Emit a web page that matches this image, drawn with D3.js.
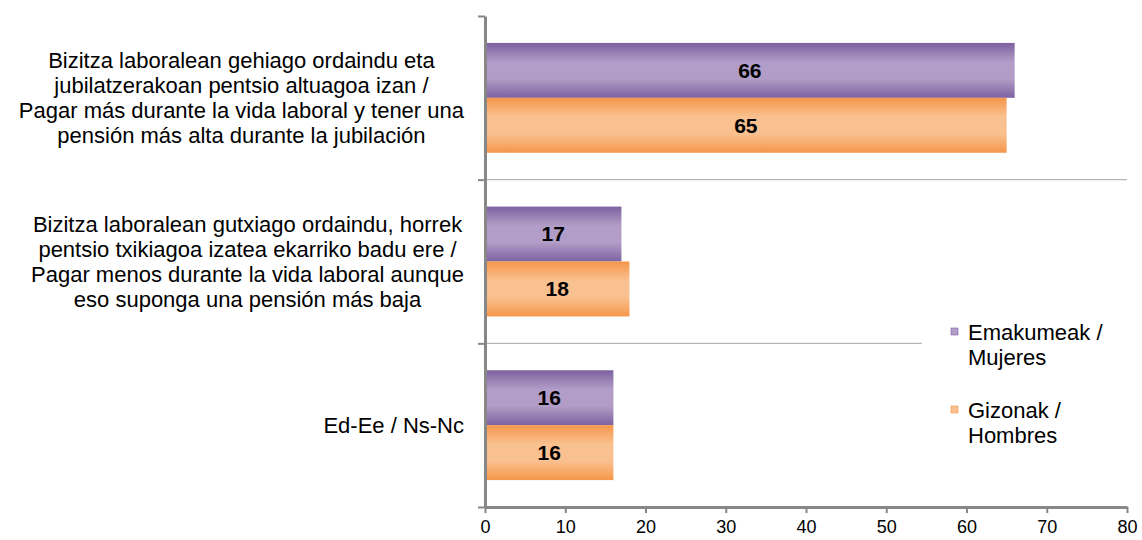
<!DOCTYPE html>
<html>
<head>
<meta charset="utf-8">
<script src="https://cdn.jsdelivr.net/npm/d3@7"></script>
<style>
  body { margin: 0; background: #fff; }
  svg { font-family: "Liberation Sans", Arial, sans-serif; }
</style>
</head>
<body>
<div class="chart"></div>
<script>
/////////////////////
// DATA
/////////////////////

var categories = [
    ['Bizitza laboralean gehiago ordaindu eta', 'jubilatzerakoan pentsio altuagoa izan /', 'Pagar más durante la vida laboral y tener una', 'pensión más alta durante la jubilación'],
    ['Bizitza laboralean gutxiago ordaindu, horrek', 'pentsio txikiagoa izatea ekarriko badu ere /', 'Pagar menos durante la vida laboral aunque', 'eso suponga una pensión más baja'],
    ['Ed-Ee / Ns-Nc']
];
var seriesNames = [['Emakumeak /', 'Mujeres'], ['Gizonak /', 'Hombres']];
var mujeres = [66, 17, 16];
var hombres = [65, 18, 16];
var xTicks = [0, 10, 20, 30, 40, 50, 60, 70, 80];

/////////////////////
// SETTINGS
/////////////////////

var W = 1142, H = 540;
var m = { left: 485, right: 15, top: 16, bottom: 33 };
var edge = [['#7d62a0', '#b19dc7'], ['#f5964a', '#f9c190']];
var axisColor = '#878787';

var svg = d3.select('.chart').append('svg')
    .attr('width', W)
    .attr('height', H);

var defs = svg.append('defs');
edge.forEach(function(c, i) {
    var g = defs.append('linearGradient')
        .attr('id', 'grad' + i)
        .attr('x1', 0).attr('y1', 0).attr('x2', 0).attr('y2', 1);
    g.append('stop').attr('offset', '0%').attr('stop-color', c[0]);
    g.append('stop').attr('offset', '35%').attr('stop-color', c[1]);
    g.append('stop').attr('offset', '65%').attr('stop-color', c[1]);
    g.append('stop').attr('offset', '100%').attr('stop-color', c[0]);
});

/////////////////////
// SCALES
/////////////////////

var x = d3.scaleLinear()
    .domain([0, 80])
    .range([m.left, W - m.right]);

var y = d3.scaleBand()
    .domain(d3.range(categories.length))
    .range([m.top, H - m.bottom])
    .paddingInner(0)
    .paddingOuter(0);

var inner = d3.scaleBand()
    .domain([0, 1])
    .range([0, y.bandwidth()])
    .paddingInner(0)
    .paddingOuter(0.49);

/////////////////////
// GRIDLINES
/////////////////////

svg.append('g')
    .selectAll('line')
    .data(d3.range(1, categories.length))
    .enter()
    .append('line')
    .attr('x1', x(0))
    .attr('x2', x(80))
    .attr('y1', function(d) { return y(d); })
    .attr('y2', function(d) { return y(d); })
    .attr('stroke', '#a6a6a6')
    .attr('stroke-width', 1);

/////////////////////
// BARS
/////////////////////

var series = [mujeres, hombres];

series.forEach(function(vals, s) {
    var g = svg.append('g');
    g.selectAll('rect')
        .data(vals)
        .enter()
        .append('rect')
        .attr('x', x(0))
        .attr('y', function(d, i) { return y(i) + inner(s); })
        .attr('width', function(d) { return x(d) - x(0); })
        .attr('height', inner.bandwidth())
        .attr('fill', 'url(#grad' + s + ')');

    g.selectAll('text')
        .data(vals)
        .enter()
        .append('text')
        .attr('x', function(d) { return (x(d) + x(0)) / 2; })
        .attr('y', function(d, i) { return y(i) + inner(s) + inner.bandwidth() / 2; })
        .attr('dy', '0.35em')
        .attr('text-anchor', 'middle')
        .attr('font-weight', 'bold')
        .attr('font-size', 21)
        .attr('fill', '#000')
        .text(function(d) { return d; });
});

/////////////////////
// LEGEND (white box hides gridline)
/////////////////////

var legend = svg.append('g');
legend.append('rect')
    .attr('x', 922).attr('y', 305)
    .attr('width', 215).attr('height', 150)
    .attr('fill', '#fff');

var legY = [332, 410];
seriesNames.forEach(function(name, s) {
    legend.append('rect')
        .attr('x', 951).attr('y', legY[s] - 4)
        .attr('width', 7).attr('height', 7)
        .attr('fill', edge[s][1])
        .attr('stroke', edge[s][0])
        .attr('stroke-width', 0.6);
    name.forEach(function(line, k) {
        legend.append('text')
            .attr('x', 968)
            .attr('y', legY[s] + k * 25)
            .attr('dy', '0.35em')
            .attr('font-size', 22)
            .attr('fill', '#000')
            .text(line);
    });
});

/////////////////////
// AXES
/////////////////////

var xAxis = d3.axisBottom(x)
    .tickValues(xTicks)
    .tickSize(6)
    .tickPadding(7)
    .tickSizeOuter(0);

var gx = svg.append('g')
    .attr('transform', 'translate(0,' + (H - m.bottom) + ')')
    .call(xAxis);
gx.select('.domain').attr('stroke', axisColor).attr('stroke-width', 3);
gx.selectAll('.tick line').attr('stroke', axisColor).attr('stroke-width', 2);
gx.selectAll('.tick text')
    .attr('font-size', 18)
    .attr('font-family', '"Liberation Sans", Arial, sans-serif')
    .attr('fill', '#000');

var yAxis = d3.axisLeft(d3.scaleLinear().domain([0, categories.length]).range([m.top, H - m.bottom]))
    .tickValues(d3.range(categories.length + 1))
    .tickSize(7)
    .tickFormat('')
    .tickSizeOuter(0);

var gy = svg.append('g')
    .attr('transform', 'translate(' + m.left + ',0)')
    .call(yAxis);
gy.select('.domain').attr('stroke', axisColor).attr('stroke-width', 3);
gy.selectAll('.tick line').attr('stroke', axisColor).attr('stroke-width', 2);

/////////////////////
// CATEGORY LABELS
/////////////////////

var labelRight = 464, lineH = 25;

categories.forEach(function(lines, i) {
    var g = svg.append('g');
    var texts = lines.map(function(t, k) {
        return g.append('text')
            .attr('y', y(i) + y.bandwidth() / 2 + (k - (lines.length - 1) / 2) * lineH)
            .attr('dy', '0.35em')
            .attr('font-size', 22)
            .attr('fill', '#000')
            .attr('text-anchor', 'middle')
            .text(t);
    });
    var maxW = d3.max(texts, function(t) { return t.node().getComputedTextLength(); });
    texts.forEach(function(t) { t.attr('x', labelRight - maxW / 2); });
});
</script>
</body>
</html>
